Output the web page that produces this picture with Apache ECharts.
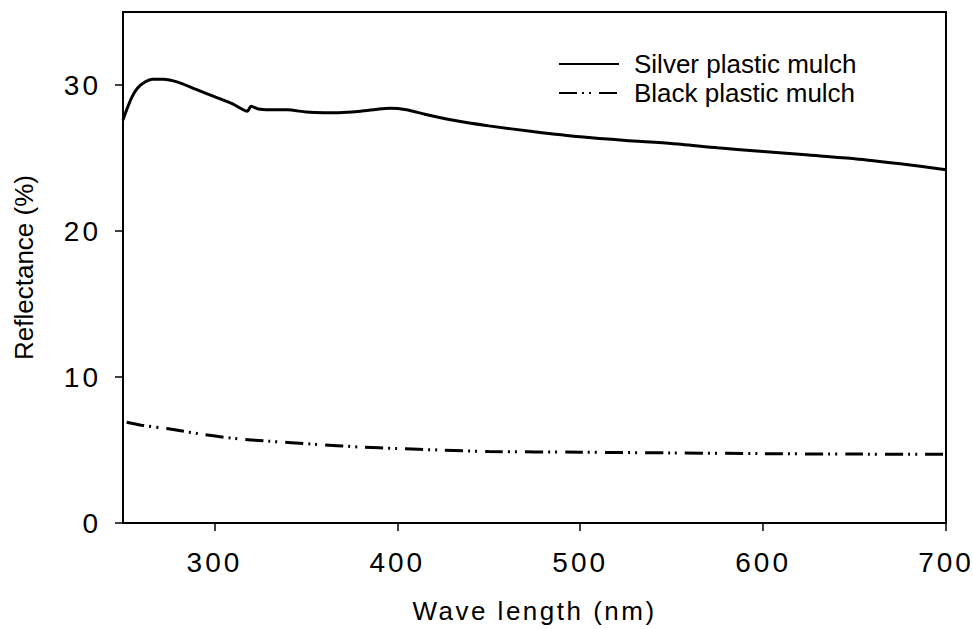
<!DOCTYPE html>
<html>
<head>
<meta charset="utf-8">
<script src="https://cdn.jsdelivr.net/npm/echarts@6/dist/echarts.min.js"></script>
<style>html,body{margin:0;padding:0;background:#fff;}#c{width:973px;height:629px;}</style>
</head>
<body>
<div id="c"></div>
<script>
const silverWave = [250,252,255,258,262,266,272,280,290,300,310,318,320,324,330,340,350,360,370,380,390,396,405,415,430,450,475,500,525,550,575,600,625,650,675,700];
const silverRefl = [27.6,28.3,29.2,29.8,30.2,30.4,30.4,30.2,29.7,29.2,28.7,28.2,28.55,28.35,28.3,28.3,28.15,28.1,28.12,28.2,28.35,28.4,28.3,28.0,27.6,27.2,26.8,26.45,26.2,26.0,25.7,25.45,25.2,24.95,24.6,24.2];
const blackWave = [252,260,275,292,310,330,354,380,400,423,450,500,550,600,650,700];
const blackRefl = [6.9,6.7,6.45,6.1,5.8,5.6,5.4,5.2,5.1,5.0,4.9,4.85,4.8,4.75,4.72,4.7];
const xTicks = [300,400,500,600,700];
const yTicks = [0,10,20,30];
const seriesNames = ['Silver plastic mulch','Black plastic mulch'];
const xTitle = 'Wave length (nm)';
const yTitle = 'Reflectance (%)';

const FONT = 'Liberation Sans, Arial, sans-serif';
const chart = echarts.init(document.getElementById('c'), null, {renderer: 'svg'});
const axisCommon = {
  axisLine: {show: true, lineStyle: {color: '#000', width: 2}},
  axisTick: {show: true, inside: false, length: 8, lineStyle: {color: '#000', width: 1.5}},
  splitLine: {show: false},
  nameTextStyle: {color: '#000', fontSize: 26, fontFamily: FONT},
  nameLocation: 'middle'
};
chart.setOption({
  animation: false,
  backgroundColor: '#fff',
  grid: {left: 123, right: 27, top: 12, bottom: 103, show: true, borderColor: '#000', borderWidth: 2},
  legend: {
    orient: 'vertical', left: 553, top: 46,
    itemWidth: 60, itemHeight: 14, itemGap: 3,
    itemStyle: {opacity: 0},
    textStyle: {color: '#000', fontSize: 26, fontFamily: FONT, lineHeight: 26, padding: [0,0,0,10]},
    data: seriesNames
  },
  xAxis: Object.assign({}, axisCommon, {
    type: 'value', min: 250, max: 700, name: xTitle, nameGap: 75,
    axisTick: Object.assign({}, axisCommon.axisTick, {customValues: xTicks}),
    axisLabel: {customValues: xTicks, color: '#000', fontSize: 28, fontFamily: FONT, margin: 25}
  }),
  yAxis: Object.assign({}, axisCommon, {
    type: 'value', min: 0, max: 35, name: yTitle, nameGap: 86,
    axisTick: Object.assign({}, axisCommon.axisTick, {customValues: yTicks}),
    axisLabel: {customValues: yTicks, color: '#000', fontSize: 28, fontFamily: FONT, margin: 22}
  }),
  series: [
    {
      name: seriesNames[0], type: 'line', symbol: 'none', smooth: 0.2,
      data: silverWave.map((w, i) => [w, silverRefl[i]]),
      lineStyle: {color: '#000', width: 3, type: 'solid'},
      itemStyle: {color: '#000'}
    },
    {
      name: seriesNames[1], type: 'line', symbol: 'none', smooth: 0.3,
      data: blackWave.map((w, i) => [w, blackRefl[i]]),
      lineStyle: {color: '#000', width: 3, type: [18,5,2,5,2,8]},
      itemStyle: {color: '#000'}
    }
  ]
});
// the reference typesetting uses letter-spaced text for ticks and the x title
const tickStrings = xTicks.concat(yTicks).map(String);
document.querySelectorAll('#c svg text').forEach(t => {
  const s = t.textContent;
  if (tickStrings.indexOf(s) >= 0) t.setAttribute('letter-spacing', '3');
  else if (s === xTitle) t.setAttribute('letter-spacing', '2.5');
});
</script>
</body>
</html>
